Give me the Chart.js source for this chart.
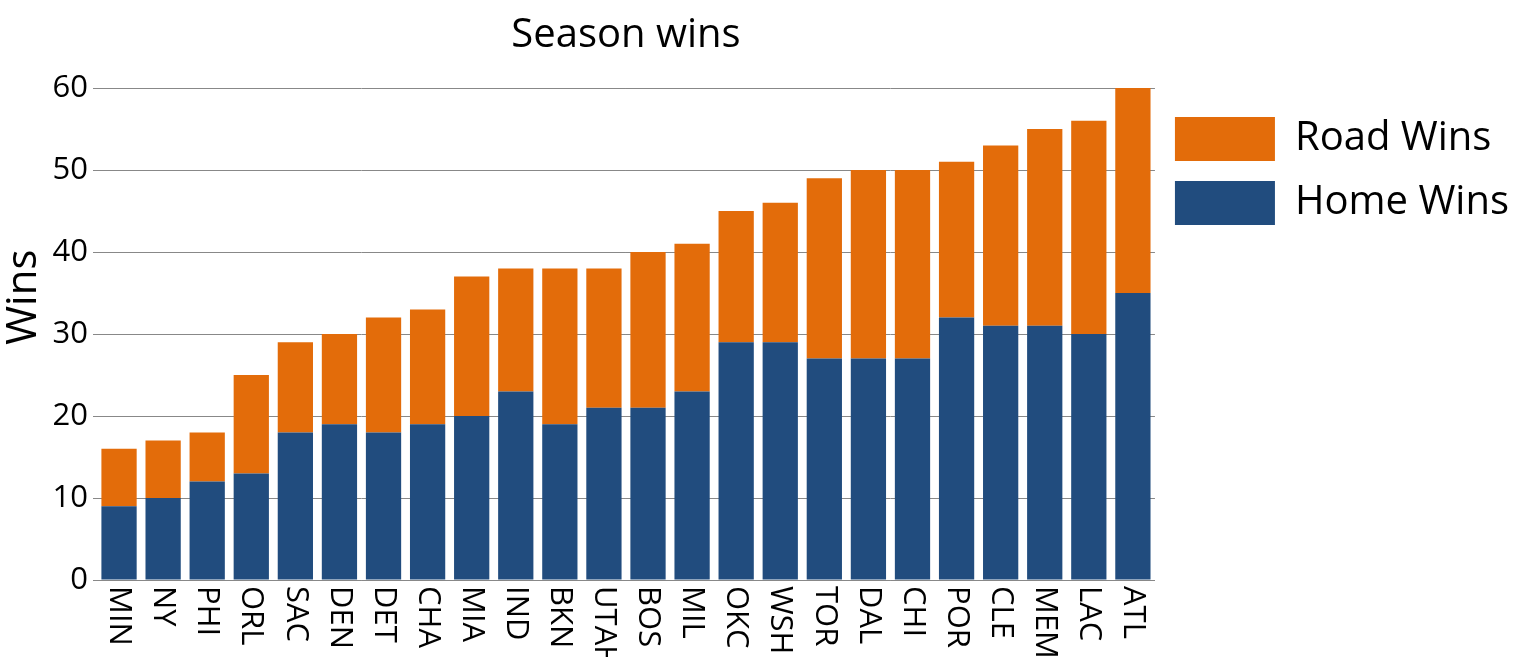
<!DOCTYPE html>
<html>
<head>
<meta charset="utf-8">
<script src="https://cdn.jsdelivr.net/npm/chart.js@4"></script>
<style>
  html, body { margin: 0; padding: 0; background: #fff; }
</style>
</head>
<body>
<canvas id="chart-wins" width="1523" height="657"></canvas>
<script>
var teams = ["MIN", "NY", "PHI", "ORL", "SAC", "DEN", "DET", "CHA", "MIA", "IND", "BKN", "UTAH",
             "BOS", "MIL", "OKC", "WSH", "TOR", "DAL", "CHI", "POR", "CLE", "MEM", "LAC", "ATL"];
var homeWins = [9, 10, 12, 13, 18, 19, 18, 19, 20, 23, 19, 21, 21, 23, 29, 29, 27, 27, 27, 32, 31, 31, 30, 35];
var roadWins = [7, 7, 6, 12, 11, 11, 14, 14, 17, 15, 19, 17, 19, 18, 16, 17, 22, 23, 23, 19, 22, 24, 26, 25];
var yTicks = [0, 10, 20, 30, 40, 50, 60];

var fontName = "'Open Sans', 'Noto Sans', sans-serif";

// title, y title and rotated team names drawn by hand
var extraText = {
    id: 'extraText',
    afterDraw: function (chart) {
        var ctx = chart.ctx;
        var area = chart.chartArea;
        var xScale = chart.scales.x;
        ctx.save();
        ctx.fillStyle = '#000';

        ctx.font = "40px " + fontName;
        ctx.textAlign = 'center';
        ctx.textBaseline = 'middle';
        ctx.fillText("Season wins", (area.left + area.right) / 2, 36);

        ctx.save();
        ctx.translate(24, area.top + (area.bottom - area.top) * 0.425);
        ctx.rotate(-Math.PI / 2);
        ctx.font = "42px " + fontName;
        ctx.fillText("Wins", 0, 0);
        ctx.restore();

        ctx.font = "31px " + fontName;
        ctx.textAlign = 'left';
        teams.forEach(function (t, i) {
            ctx.save();
            ctx.translate(xScale.getPixelForTick(i), area.bottom + 6);
            ctx.rotate(Math.PI / 2);
            ctx.fillText(t, 0, 0);
            ctx.restore();
        });
        ctx.restore();
    }
};

var chartWins = new Chart(document.getElementById("chart-wins").getContext('2d'), {
    type: 'bar',
    data: {
        labels: teams,
        datasets: [{
            label: "Home Wins",
            data: homeWins,
            backgroundColor: '#214C7E'
        }, {
            label: "Road Wins",
            data: roadWins,
            backgroundColor: '#E36C0A'
        }]
    },
    options: {
        responsive: false,
        animation: false,
        layout: {
            padding: { top: 88, bottom: 69, left: 0, right: 4 }
        },
        datasets: {
            bar: { barPercentage: 0.8, categoryPercentage: 1.0 }
        },
        scales: {
            x: {
                stacked: true,
                grid: { display: false },
                border: { color: '#888', width: 1 },
                ticks: { display: false }
            },
            y: {
                stacked: true,
                min: 0,
                max: 60,
                afterBuildTicks: function (scale) {
                    scale.ticks = yTicks.map(function (v) { return { value: v }; });
                },
                afterFit: function (scale) { scale.width = 97; },
                grid: { color: '#888', lineWidth: 1, tickLength: 4 },
                border: { display: false },
                ticks: {
                    padding: 5,
                    color: '#000',
                    font: { family: fontName, size: 31 }
                }
            }
        },
        plugins: {
            title: { display: false },
            tooltip: { enabled: false },
            legend: {
                position: 'right',
                align: 'start',
                reverse: true,
                title: { display: true, text: '', padding: 0, font: { size: 7.5 } },
                labels: {
                    boxWidth: 100,
                    boxHeight: 44,
                    padding: 20,
                    color: '#000',
                    font: { family: fontName, size: 40 }
                }
            }
        }
    },
    plugins: [extraText]
});
</script>
</body>
</html>
